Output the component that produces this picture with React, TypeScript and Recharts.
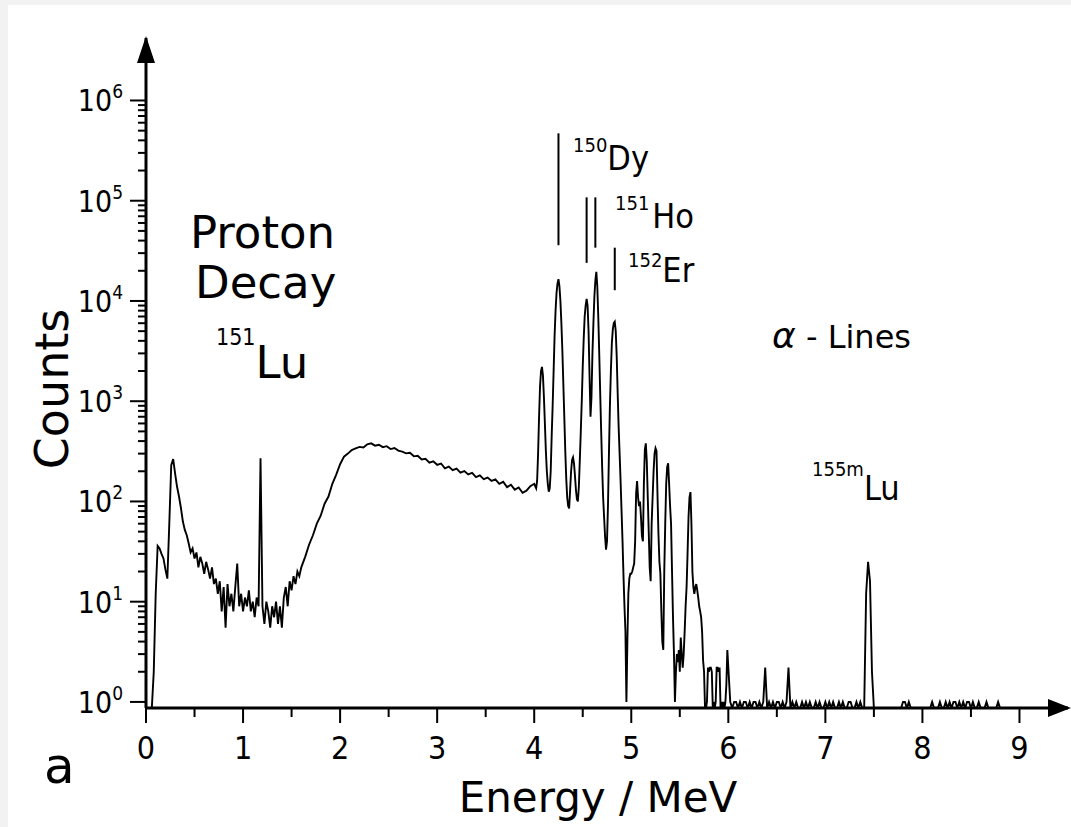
import React from "react";
import { LineChart, Line, XAxis, YAxis, ReferenceLine } from "recharts";

// spectrum channels, counts (0 = empty channel)
const lowStart = 0.0;
const lowStep = 0.02;
const lowCounts = [
  0, 0, 0, 0, 2, 12, 36, 34, 30, 27,
  21, 17, 60, 230, 265, 190, 140, 112, 86, 63,
  52, 46, 38, 31, 34, 27, 31, 22, 28, 24,
  19, 25, 21, 17, 22, 15, 17, 12, 16, 8,
  14, 5.5, 15, 9, 12, 8, 14, 24, 9, 12,
  8, 11, 9, 13, 8, 10, 7, 11, 9, 270,
  9, 6, 10, 8, 5.5, 9, 7, 10, 6, 9,
  5.5, 11, 14, 9, 16, 13, 18, 15, 20, 18,
];

const bumpStart = 1.6;
const bumpStep = 0.04;
const bumpCounts = [
  22, 28, 37, 46, 60, 72, 95, 112, 150, 185,
  235, 280, 300, 325, 338, 350, 345, 372, 380, 360,
  368, 348, 356, 333, 341, 322, 314, 302, 306, 282,
  286, 262, 266, 244, 251, 232, 239, 214, 223, 205,
  213, 194, 201, 186, 193, 175, 182, 167, 173, 160,
  166, 150, 157, 139, 147, 131, 138, 122, 128, 142,
];

const alphaStart = 4.0;
const alphaStep = 0.01;
const alphaCounts = [
  150, 142, 135, 160, 300, 700, 1400, 2000, 2200, 1800,
  1100, 600, 320, 200, 150, 125, 135, 200, 450, 900,
  2000, 4500, 8000, 12000, 15000, 16500, 14000, 10000, 6000, 3200,
  1500, 700, 320, 170, 110, 90, 85, 130, 200, 260,
  275, 240, 180, 130, 105, 100, 140, 260, 500, 1000,
  2200, 4200, 7000, 9000, 10500, 9000, 5000, 1800, 700, 1100,
  3000, 6000, 11000, 16000, 19500, 14000, 7000, 3000, 1200, 500,
  220, 110, 70, 45, 33, 40, 90, 300, 900, 2000,
  3800, 5200, 6000, 6200, 5000, 2800, 1200, 550, 300, 160,
  80, 40, 18, 9, 5, 1, 4, 12, 17, 19,
];

const highStart = 5.0;
const highStep = 0.01;
const highCounts = [
  19, 20, 22, 24, 40, 120, 160, 110, 90, 100,
  70, 45, 40, 150, 330, 380, 250, 110, 50, 22,
  16, 60, 110, 200, 300, 340, 320, 120, 48, 25,
  19, 8, 4, 3.3, 20, 60, 150, 220, 240, 150,
  90, 60, 20, 7, 3, 1, 2, 3, 2.5, 3.3,
  2, 4.4, 3, 2.2, 3, 5, 9, 14, 30, 70,
  110, 124, 60, 20, 14, 12, 14, 15, 13, 11,
  9, 8, 7, 5, 2.6, 2, 0, 0, 1, 2.2,
  2, 2.2, 2.2, 2, 0, 1, 0, 1, 2.2, 2.2,
  2, 2.2, 0, 1, 0, 1, 0, 1, 1.5, 3.3,
];

const tailStart = 6.02;
const tailStep = 0.02;
const tailCounts = [
  1, 0, 1, 1, 0, 1, 0, 1, 1, 0,
  1, 0, 1, 1, 0, 1, 0, 1, 2.2, 0,
  1, 0, 1, 0, 1, 1, 0, 1, 0, 1,
  2.2, 0, 1, 0, 1, 0, 0, 1, 0, 1,
  0, 1, 0, 0, 1, 0, 1, 0, 0, 1,
  0, 1, 0, 1, 0, 0, 1, 0, 1, 0,
  0, 1, 1, 0, 0, 1, 0, 1, 0, 0,
  12, 25, 16, 2, 0, 0, 0, 0, 0, 0,
  0, 0, 0, 0, 0, 0, 0, 0, 0, 1,
  1, 0, 1, 0, 0, 0, 0, 0, 0, 0,
  0, 0, 0, 0, 1, 0, 0, 0, 1, 0,
  0, 1, 0, 1, 0, 1, 1, 0, 1, 0,
  1, 0, 1, 1, 0, 1, 0, 0, 1, 0,
  0, 0, 1, 0, 0, 0, 0, 0, 1, 0,
  0, 0, 0, 0, 0, 0, 0, 0, 0, 0,
  0, 0, 0, 0, 0, 0, 0, 0, 0, 0,
  0, 0, 0, 0, 0, 0, 0, 0, 0, 0,
  0, 0, 0, 0, 0,
];

// marker bars above the alpha peaks: [energy, from, to]
const markers = [
  [4.25, 3.6e4, 4.7e5],
  [4.54, 2.4e4, 1.08e5],
  [4.63, 3.4e4, 1.08e5],
  [4.83, 1.28e4, 3.4e4],
];

const xTicks = [0, 0.5, 1, 1.5, 2, 2.5, 3, 3.5, 4, 4.5, 5, 5.5, 6, 6.5, 7, 7.5, 8, 8.5, 9];
const yDecades = [1, 10, 100, 1000, 1e4, 1e5, 1e6];

const FLOOR = 0.87; // empty channels sit on the axis
const Y_MAX = 4.2e6;

const W = 1071;
const H = 827;
const LEFT = 146;
const RIGHT = 1068;
const TOP = 38;
const BOTTOM = 708;
const Y_W = 100;
const X_H = 60;

const TICK_FONT = "'DejaVu Sans Condensed', 'DejaVu Sans', sans-serif";
const TEXT_FONT = "'DejaVu Sans', sans-serif";

function segment(start: number, step: number, counts: number[]) {
  return counts.map((c, i) => ({
    e: +(start + i * step).toFixed(3),
    c: c > 0 ? c : FLOOR,
  }));
}

const data = [
  ...segment(lowStart, lowStep, lowCounts),
  ...segment(bumpStart, bumpStep, bumpCounts),
  ...segment(alphaStart, alphaStep, alphaCounts),
  ...segment(highStart, highStep, highCounts),
  ...segment(tailStart, tailStep, tailCounts),
];

const yTicks: number[] = [];
yDecades.forEach((d, i) => {
  yTicks.push(d);
  if (i < yDecades.length - 1) {
    for (let m = 2; m <= 9; m++) yTicks.push(d * m);
  }
});

function YTick(props: any) {
  const { y, payload } = props;
  const v = payload.value;
  const exp = Math.round(Math.log10(v));
  const decade = Math.abs(v - Math.pow(10, exp)) < v * 1e-6;
  return (
    <g>
      <line x1={decade ? LEFT - 16 : LEFT - 8} x2={LEFT} y1={y} y2={y} stroke="#000" strokeWidth={2} />
      {decade && (
        <text x={123} y={y + 11} textAnchor="end" fontSize={30} fontFamily={TICK_FONT} fill="#000">
          10
          <tspan fontSize={19} dy={-13}>{exp}</tspan>
        </text>
      )}
    </g>
  );
}

function XTick(props: any) {
  const { x, payload } = props;
  const v = payload.value;
  const major = Number.isInteger(v);
  return (
    <g>
      <line x1={x} x2={x} y1={BOTTOM} y2={BOTTOM + (major ? 15 : 9)} stroke="#000" strokeWidth={2} />
      {major && (
        <text x={x} y={759} textAnchor="middle" fontSize={32} fontFamily={TICK_FONT} fill="#000">
          {v}
        </text>
      )}
    </g>
  );
}

export default function App() {
  return (
    <div style={{ position: "absolute", left: 0, top: 0, width: W, height: H, background: "#f2f2f2" }}>
      <div style={{ position: "absolute", left: 8, top: 5, right: 0, bottom: 0, background: "#fff" }} />
      <div style={{ position: "absolute", left: 0, top: 0 }}>
        <LineChart
          width={W}
          height={H}
          data={data}
          margin={{ top: TOP, right: W - RIGHT, left: LEFT - Y_W, bottom: H - BOTTOM - X_H }}
        >
          <XAxis
            type="number"
            dataKey="e"
            domain={[0, 9.5]}
            ticks={xTicks}
            interval={0}
            height={X_H}
            tickLine={false}
            tickSize={0}
            tick={(p: any) => <XTick {...p} />}
            axisLine={{ stroke: "#000", strokeWidth: 3 }}
            allowDataOverflow
          />
          <YAxis
            type="number"
            scale="log"
            domain={[FLOOR, Y_MAX]}
            ticks={yTicks}
            interval={0}
            width={Y_W}
            tickLine={false}
            tickSize={0}
            tick={(p: any) => <YTick {...p} />}
            axisLine={{ stroke: "#000", strokeWidth: 3 }}
            allowDataOverflow
          />
          {markers.map(([e, lo, hi], i) => (
            <ReferenceLine
              key={i}
              segment={[{ x: e, y: lo }, { x: e, y: hi }]}
              stroke="#000"
              strokeWidth={2}
            />
          ))}
          <Line
            type="linear"
            dataKey="c"
            stroke="#000"
            strokeWidth={1.9}
            dot={false}
            isAnimationActive={false}
          />
        </LineChart>
      </div>
      <svg
        width={W}
        height={H}
        style={{ position: "absolute", left: 0, top: 0, pointerEvents: "none" }}
      >
        <polygon points="146,36 137,63 155,63" fill="#000" />
        <polygon points="1071,708 1048,699 1048,717" fill="#000" />
        <text
          x={68}
          y={389}
          transform="rotate(-90 68 389)"
          textAnchor="middle"
          fontSize={46}
          fontFamily={TEXT_FONT}
          fill="#000"
        >
          Counts
        </text>
        <text x={44} y={783} fontSize={50} fontFamily={TEXT_FONT} fill="#000">a</text>
        <text x={598} y={812} textAnchor="middle" fontSize={42} fontFamily={TEXT_FONT} fill="#000">
          Energy / MeV
        </text>
        <text x={190} y={248} fontSize={45} fontFamily={TEXT_FONT} fill="#000">Proton</text>
        <text x={195} y={298} fontSize={45} fontFamily={TEXT_FONT} fill="#000">Decay</text>
        <text x={216} y={378} fontSize={45} fontFamily={TEXT_FONT} fill="#000">
          <tspan fontSize={23} fontFamily={TICK_FONT} dy={-33}>151</tspan>
          <tspan dy={33}>Lu</tspan>
        </text>
        <text x={573} y={170} fontSize={34} fontFamily={TICK_FONT} fill="#000">
          <tspan fontSize={20} dy={-18}>150</tspan>
          <tspan dy={18}>Dy</tspan>
        </text>
        <text x={615} y={228} fontSize={34} fontFamily={TICK_FONT} fill="#000">
          <tspan fontSize={20} dy={-18}>151</tspan>
          <tspan dx={3} dy={18}>Ho</tspan>
        </text>
        <text x={628} y={282} fontSize={34} fontFamily={TICK_FONT} fill="#000">
          <tspan fontSize={20} dy={-15}>152</tspan>
          <tspan dy={15}>Er</tspan>
        </text>
        <text x={772} y={348} fontSize={32} fontFamily={TEXT_FONT} fill="#000">
          <tspan fontStyle="italic" fontSize={36}>α</tspan>
          <tspan> - Lines</tspan>
        </text>
        <text x={812} y={500} fontSize={34} fontFamily={TICK_FONT} fill="#000">
          <tspan fontSize={20} dy={-24}>155m</tspan>
          <tspan dy={24}>Lu</tspan>
        </text>
      </svg>
    </div>
  );
}
